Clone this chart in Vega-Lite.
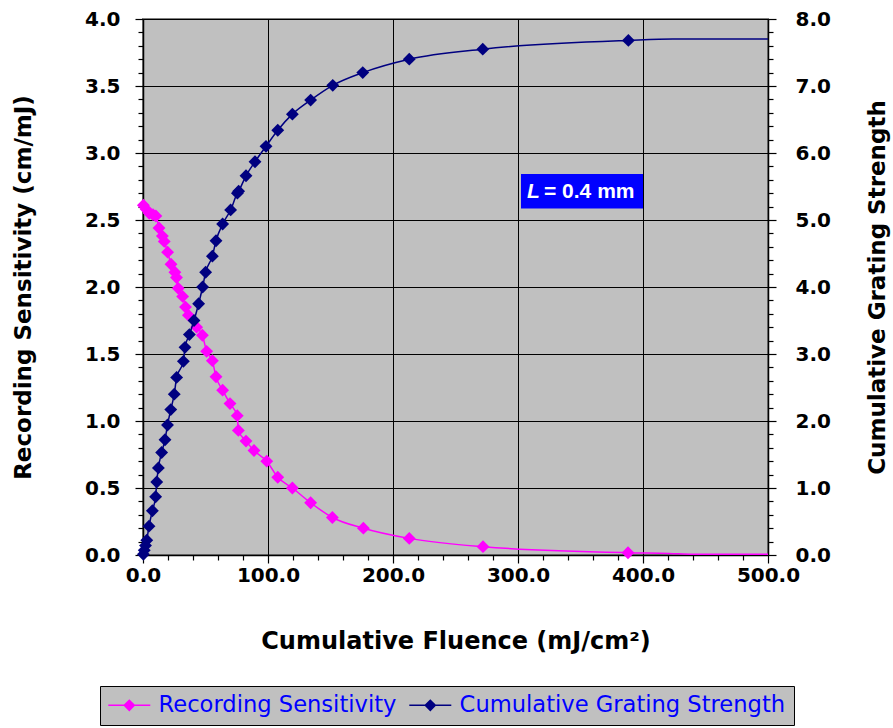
{
  "$schema": "https://vega.github.io/schema/vega-lite/v6.json",
  "width": 625,
  "height": 536,
  "autosize": {"type": "none"},
  "padding": {"left": 143, "top": 19, "right": 125, "bottom": 173},
  "background": "#ffffff",
  "config": {
    "view": {"fill": "#c0c0c0", "stroke": "#808080", "strokeWidth": 2},
    "axis": {
      "domainColor": "#000000", "domainWidth": 1.5, "tickColor": "#000000", "tickWidth": 1.2,
      "labelFont": "DejaVu Sans", "labelFontWeight": "bold", "labelFontSize": 20, "labelColor": "#000000",
      "titleFont": "DejaVu Sans", "titleFontWeight": "bold", "titleFontSize": 23, "titleColor": "#000000",
      "gridColor": "#000000", "gridWidth": 1, "labelOverlap": false, "labelBound": false, "labelFlush": false,
      "tickCount": 500
    },
    "legend": {"symbolOpacity": 1}
  },
  "data": {
    "values": [
      {"series": "Recording Sensitivity", "fluence": 0.3, "value": 2.61, "kind": "measured"},
      {"series": "Recording Sensitivity", "fluence": 2.5, "value": 2.58, "kind": "measured"},
      {"series": "Recording Sensitivity", "fluence": 5.0, "value": 2.55, "kind": "measured"},
      {"series": "Recording Sensitivity", "fluence": 8.0, "value": 2.54, "kind": "measured"},
      {"series": "Recording Sensitivity", "fluence": 10.3, "value": 2.53, "kind": "measured"},
      {"series": "Recording Sensitivity", "fluence": 12.8, "value": 2.44, "kind": "measured"},
      {"series": "Recording Sensitivity", "fluence": 15.5, "value": 2.38, "kind": "measured"},
      {"series": "Recording Sensitivity", "fluence": 17.0, "value": 2.34, "kind": "measured"},
      {"series": "Recording Sensitivity", "fluence": 19.7, "value": 2.26, "kind": "measured"},
      {"series": "Recording Sensitivity", "fluence": 22.4, "value": 2.17, "kind": "measured"},
      {"series": "Recording Sensitivity", "fluence": 25.5, "value": 2.11, "kind": "measured"},
      {"series": "Recording Sensitivity", "fluence": 26.8, "value": 2.07, "kind": "measured"},
      {"series": "Recording Sensitivity", "fluence": 28.2, "value": 1.99, "kind": "measured"},
      {"series": "Recording Sensitivity", "fluence": 31.7, "value": 1.93, "kind": "measured"},
      {"series": "Recording Sensitivity", "fluence": 34.0, "value": 1.85, "kind": "measured"},
      {"series": "Recording Sensitivity", "fluence": 36.3, "value": 1.79, "kind": "measured"},
      {"series": "Recording Sensitivity", "fluence": 42.9, "value": 1.70, "kind": "measured"},
      {"series": "Recording Sensitivity", "fluence": 47.5, "value": 1.64, "kind": "measured"},
      {"series": "Recording Sensitivity", "fluence": 50.9, "value": 1.52, "kind": "measured"},
      {"series": "Recording Sensitivity", "fluence": 55.5, "value": 1.45, "kind": "measured"},
      {"series": "Recording Sensitivity", "fluence": 58.4, "value": 1.33, "kind": "measured"},
      {"series": "Recording Sensitivity", "fluence": 63.7, "value": 1.23, "kind": "measured"},
      {"series": "Recording Sensitivity", "fluence": 69.6, "value": 1.13, "kind": "measured"},
      {"series": "Recording Sensitivity", "fluence": 75.4, "value": 1.04, "kind": "measured"},
      {"series": "Recording Sensitivity", "fluence": 76.3, "value": 0.93, "kind": "measured"},
      {"series": "Recording Sensitivity", "fluence": 82.4, "value": 0.85, "kind": "measured"},
      {"series": "Recording Sensitivity", "fluence": 88.8, "value": 0.78, "kind": "measured"},
      {"series": "Recording Sensitivity", "fluence": 99.0, "value": 0.70, "kind": "measured"},
      {"series": "Recording Sensitivity", "fluence": 107.8, "value": 0.58, "kind": "measured"},
      {"series": "Recording Sensitivity", "fluence": 119.5, "value": 0.50, "kind": "measured"},
      {"series": "Recording Sensitivity", "fluence": 134.1, "value": 0.39, "kind": "measured"},
      {"series": "Recording Sensitivity", "fluence": 151.5, "value": 0.28, "kind": "measured"},
      {"series": "Recording Sensitivity", "fluence": 176.3, "value": 0.20, "kind": "measured"},
      {"series": "Recording Sensitivity", "fluence": 213.0, "value": 0.124, "kind": "measured"},
      {"series": "Recording Sensitivity", "fluence": 272.0, "value": 0.062, "kind": "measured"},
      {"series": "Recording Sensitivity", "fluence": 388.0, "value": 0.017, "kind": "measured"},
      {"series": "Recording Sensitivity", "fluence": 421.0, "value": 0.012, "kind": "curve"},
      {"series": "Recording Sensitivity", "fluence": 440.0, "value": 0.006, "kind": "curve"},
      {"series": "Recording Sensitivity", "fluence": 500.0, "value": 0.005, "kind": "curve"},
      {"series": "Cumulative Grating Strength", "fluence": 0.3, "value": 0.01, "kind": "measured"},
      {"series": "Cumulative Grating Strength", "fluence": 1.0, "value": 0.07, "kind": "measured"},
      {"series": "Cumulative Grating Strength", "fluence": 2.0, "value": 0.14, "kind": "measured"},
      {"series": "Cumulative Grating Strength", "fluence": 3.0, "value": 0.22, "kind": "measured"},
      {"series": "Cumulative Grating Strength", "fluence": 4.8, "value": 0.43, "kind": "measured"},
      {"series": "Cumulative Grating Strength", "fluence": 7.5, "value": 0.66, "kind": "measured"},
      {"series": "Cumulative Grating Strength", "fluence": 10.1, "value": 0.87, "kind": "measured"},
      {"series": "Cumulative Grating Strength", "fluence": 11.0, "value": 1.09, "kind": "measured"},
      {"series": "Cumulative Grating Strength", "fluence": 12.3, "value": 1.30, "kind": "measured"},
      {"series": "Cumulative Grating Strength", "fluence": 14.9, "value": 1.53, "kind": "measured"},
      {"series": "Cumulative Grating Strength", "fluence": 17.6, "value": 1.72, "kind": "measured"},
      {"series": "Cumulative Grating Strength", "fluence": 19.6, "value": 1.94, "kind": "measured"},
      {"series": "Cumulative Grating Strength", "fluence": 22.2, "value": 2.17, "kind": "measured"},
      {"series": "Cumulative Grating Strength", "fluence": 25.0, "value": 2.40, "kind": "measured"},
      {"series": "Cumulative Grating Strength", "fluence": 26.9, "value": 2.65, "kind": "measured"},
      {"series": "Cumulative Grating Strength", "fluence": 32.3, "value": 2.89, "kind": "measured"},
      {"series": "Cumulative Grating Strength", "fluence": 33.6, "value": 3.10, "kind": "measured"},
      {"series": "Cumulative Grating Strength", "fluence": 37.1, "value": 3.29, "kind": "measured"},
      {"series": "Cumulative Grating Strength", "fluence": 40.8, "value": 3.50, "kind": "measured"},
      {"series": "Cumulative Grating Strength", "fluence": 44.5, "value": 3.75, "kind": "measured"},
      {"series": "Cumulative Grating Strength", "fluence": 47.7, "value": 4.00, "kind": "measured"},
      {"series": "Cumulative Grating Strength", "fluence": 50.1, "value": 4.22, "kind": "measured"},
      {"series": "Cumulative Grating Strength", "fluence": 55.5, "value": 4.46, "kind": "measured"},
      {"series": "Cumulative Grating Strength", "fluence": 58.4, "value": 4.69, "kind": "measured"},
      {"series": "Cumulative Grating Strength", "fluence": 63.7, "value": 4.94, "kind": "measured"},
      {"series": "Cumulative Grating Strength", "fluence": 70.1, "value": 5.15, "kind": "measured"},
      {"series": "Cumulative Grating Strength", "fluence": 75.5, "value": 5.40, "kind": "measured"},
      {"series": "Cumulative Grating Strength", "fluence": 76.5, "value": 5.43, "kind": "measured"},
      {"series": "Cumulative Grating Strength", "fluence": 82.4, "value": 5.66, "kind": "measured"},
      {"series": "Cumulative Grating Strength", "fluence": 89.6, "value": 5.87, "kind": "measured"},
      {"series": "Cumulative Grating Strength", "fluence": 98.4, "value": 6.10, "kind": "measured"},
      {"series": "Cumulative Grating Strength", "fluence": 107.8, "value": 6.34, "kind": "measured"},
      {"series": "Cumulative Grating Strength", "fluence": 119.5, "value": 6.58, "kind": "measured"},
      {"series": "Cumulative Grating Strength", "fluence": 134.1, "value": 6.79, "kind": "measured"},
      {"series": "Cumulative Grating Strength", "fluence": 151.8, "value": 7.01, "kind": "measured"},
      {"series": "Cumulative Grating Strength", "fluence": 175.8, "value": 7.20, "kind": "measured"},
      {"series": "Cumulative Grating Strength", "fluence": 213.0, "value": 7.40, "kind": "measured"},
      {"series": "Cumulative Grating Strength", "fluence": 271.8, "value": 7.55, "kind": "measured"},
      {"series": "Cumulative Grating Strength", "fluence": 388.3, "value": 7.68, "kind": "measured"},
      {"series": "Cumulative Grating Strength", "fluence": 424.0, "value": 7.70, "kind": "curve"},
      {"series": "Cumulative Grating Strength", "fluence": 500.0, "value": 7.70, "kind": "curve"}
    ]
  },
  "layer": [
    {
      "layer": [
        {
          "transform": [{"filter": "datum.series === 'Recording Sensitivity'"}],
          "mark": {"type": "line", "strokeWidth": 1.5, "interpolate": "monotone"},
          "encoding": {
            "x": {
              "field": "fluence", "type": "quantitative",
              "scale": {"domain": [0, 500], "nice": false},
              "axis": {
                "title": "Cumulative Fluence (mJ/cm²)",
                "titleFontSize": 24,
                "values": [0,20,40,60,80,100,120,140,160,180,200,220,240,260,280,300,320,340,360,380,400,420,440,460,480,500],
                "tickCount": 500,
                "grid": true,
                "gridOpacity": {"condition": {"test": "datum.value % 100 === 0", "value": 1}, "value": 0},
                "tickSize": {"condition": {"test": "datum.value % 100 === 0", "value": 8}, "value": 5},
                "labelExpr": "datum.value % 100 === 0 ? format(datum.value, '.1f') : ''",
                "labelPadding": 2,
                "titleBaseline": "alphabetic",
                "titleY": 93
              }
            },
            "y": {
              "field": "value", "type": "quantitative",
              "scale": {"domain": [0, 4], "nice": false},
              "axis": {
                "orient": "left",
                "title": "Recording Sensitivity (cm/mJ)",
                "values": [0,0.1,0.2,0.3,0.4,0.5,0.6,0.7,0.8,0.9,1,1.1,1.2,1.3,1.4,1.5,1.6,1.7,1.8,1.9,2,2.1,2.2,2.3,2.4,2.5,2.6,2.7,2.8,2.9,3,3.1,3.2,3.3,3.4,3.5,3.6,3.7,3.8,3.9,4],
                "tickCount": 500,
                "grid": true,
                "gridOpacity": {"condition": {"test": "round(datum.value*10) % 5 === 0", "value": 1}, "value": 0},
                "tickSize": {"condition": {"test": "round(datum.value*10) % 5 === 0", "value": 8}, "value": 5},
                "labelExpr": "round(datum.value*10) % 5 === 0 ? format(datum.value, '.1f') : ''",
                "labelPadding": 15,
                "titleAngle": 270,
                "titleBaseline": "alphabetic",
                "titleX": -113
              }
            },
            "color": {
              "field": "series", "type": "nominal",
              "scale": {"domain": ["Recording Sensitivity", "Cumulative Grating Strength"], "range": ["#ff00ff", "#000080"]},
              "legend": {
                "orient": "none", "legendX": -43, "legendY": 667,
                "direction": "horizontal", "title": null,
                "fillColor": "#c0c0c0", "strokeColor": "#000000",
                "padding": 8,
                "labelFont": "DejaVu Sans", "labelFontSize": 22.6, "labelColor": "#0000ff", "labelLimit": 500,
                "labelOffset": 18, "symbolOffset": 10, "columnPadding": 9,
                "symbolType": "M-2.1,0L2.1,0M0,-0.5L0.5,0L0,0.5L-0.5,0Z",
                "symbolSize": 400, "symbolStrokeWidth": 1.5,
                "encode": {"symbols": {"update": {"fill": {"scale": "color", "field": "value"}, "stroke": {"scale": "color", "field": "value"}}}}
              }
            }
          }
        },
        {
          "transform": [{"filter": "datum.series === 'Recording Sensitivity' && datum.kind === 'measured'"}],
          "mark": {"type": "point", "shape": "diamond", "filled": true, "size": 165, "opacity": 1},
          "encoding": {
            "x": {"field": "fluence", "type": "quantitative"},
            "y": {"field": "value", "type": "quantitative"},
            "color": {"field": "series", "type": "nominal"}
          }
        },
        {
          "data": {"values": [{"note": "L", "rest": "= 0.4 mm"}]},
          "mark": {"type": "rect", "color": "#0000ff"},
          "encoding": {
            "x": {"datum": 302.4}, "x2": {"datum": 400},
            "y": {"datum": 2.585}, "y2": {"datum": 2.843}
          }
        },
        {
          "data": {"values": [{"note": "L", "rest": "= 0.4 mm"}]},
          "mark": {"type": "text", "font": "Liberation Sans", "fontSize": 21, "fontWeight": "bold", "fontStyle": "italic", "color": "#ffffff", "align": "left", "baseline": "alphabetic"},
          "encoding": {
            "x": {"datum": 307.2}, "y": {"datum": 2.664},
            "text": {"field": "note"}
          }
        },
        {
          "data": {"values": [{"note": "L", "rest": "= 0.4 mm"}]},
          "mark": {"type": "text", "font": "Liberation Sans", "fontSize": 21, "fontWeight": "bold", "color": "#ffffff", "align": "left", "baseline": "alphabetic"},
          "encoding": {
            "x": {"datum": 320.8}, "y": {"datum": 2.664},
            "text": {"field": "rest"}
          }
        }
      ]
    },
    {
      "layer": [
        {
          "transform": [{"filter": "datum.series === 'Cumulative Grating Strength'"}],
          "mark": {"type": "line", "strokeWidth": 1.5, "interpolate": "monotone"},
          "encoding": {
            "x": {"field": "fluence", "type": "quantitative"},
            "y": {
              "field": "value", "type": "quantitative",
              "scale": {"domain": [0, 8], "nice": false},
              "axis": {
                "orient": "right",
                "title": "Cumulative Grating Strength",
                "values": [0,0.2,0.4,0.6,0.8,1,1.2,1.4,1.6,1.8,2,2.2,2.4,2.6,2.8,3,3.2,3.4,3.6,3.8,4,4.2,4.4,4.6,4.8,5,5.2,5.4,5.6,5.8,6,6.2,6.4,6.6,6.8,7,7.2,7.4,7.6,7.8,8],
                "tickCount": 500,
                "grid": false,
                "tickSize": {"condition": {"test": "round(datum.value*5) % 5 === 0", "value": 8}, "value": 5},
                "labelExpr": "round(datum.value*5) % 5 === 0 ? format(datum.value, '.1f') : ''",
                "labelPadding": 19,
                "titleAngle": 270,
                "titleBaseline": "alphabetic",
                "titleX": 116
              }
            },
            "color": {"field": "series", "type": "nominal"}
          }
        },
        {
          "transform": [{"filter": "datum.series === 'Cumulative Grating Strength' && datum.kind === 'measured'"}],
          "mark": {"type": "point", "shape": "diamond", "filled": true, "size": 165, "opacity": 1},
          "encoding": {
            "x": {"field": "fluence", "type": "quantitative"},
            "y": {"field": "value", "type": "quantitative"},
            "color": {"field": "series", "type": "nominal"}
          }
        }
      ]
    }
  ],
  "resolve": {"scale": {"y": "independent"}}
}
